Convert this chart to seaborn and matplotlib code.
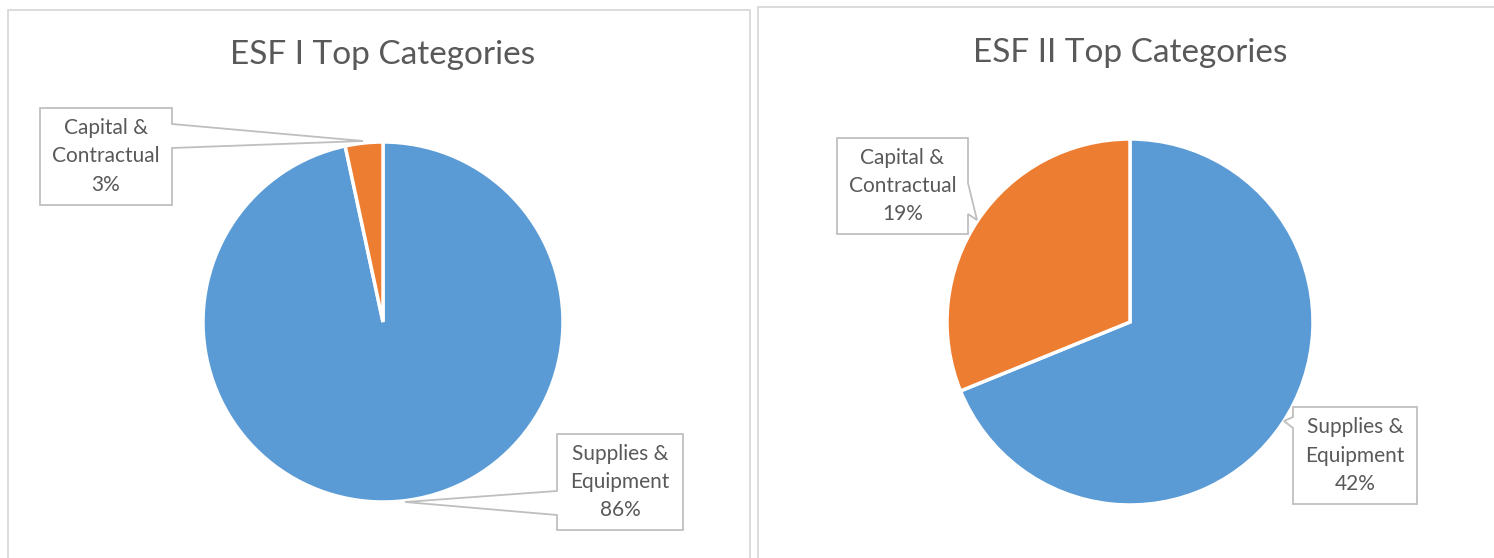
import matplotlib
matplotlib.use("Agg")
import matplotlib.pyplot as plt
from matplotlib.patches import Polygon
import seaborn as sns

# ---- data ----
categories = ["Supplies & Equipment", "Capital & Contractual"]
esf1_values = [86, 3]
esf2_values = [42, 19]
label_names = ["Supplies &\nEquipment", "Capital &\nContractual"]
titles = ["ESF I Top Categories", "ESF II Top Categories"]

sns.set_theme(style="white")
plt.rcParams['font.family'] = ['Lato', 'DejaVu Sans']
colors = ["#5B9BD5", "#ED7D31"]
TXT = "#595959"
EDGE = "#BFBFBF"

W, H = 1494, 558
fig = plt.figure(figsize=(W / 100, H / 100), dpi=100)
ax = fig.add_axes([0, 0, 1, 1])


def Y(y):
    return H - y


def pie(values, cx, cy, r):
    ax.pie(values, colors=colors, startangle=90, counterclock=False,
           center=(cx, Y(cy)), radius=r, frame=True,
           wedgeprops=dict(edgecolor="white", linewidth=2.5))


pie(esf1_values, 383, 322, 180)
pie(esf2_values, 1130, 322, 183)

ax.set_xlim(0, W)
ax.set_ylim(0, H)
ax.set_aspect("equal")
ax.axis("off")

# panel borders
pc = "#D9D9D9"
ax.plot([8, 8, 750, 750], [Y(560), Y(10), Y(10), Y(560)], color=pc, lw=1.3,
        solid_joinstyle="miter", clip_on=False)
ax.plot([758, 758, 1500], [Y(560), Y(7), Y(7)], color=pc, lw=1.3,
        solid_joinstyle="miter", clip_on=False)

# titles
ax.text(383, Y(55), titles[0], ha="center", va="center", fontsize=24,
        color=TXT)
ax.text(1130, Y(53), titles[1], ha="center", va="center", fontsize=24,
        color=TXT)


def label_box(x0, y0, x1, y1, text, outline):
    poly = Polygon([(px, Y(py)) for px, py in outline], closed=True,
                   facecolor="white", edgecolor=EDGE, lw=1.3, zorder=5)
    ax.add_patch(poly)
    ax.text((x0 + x1) / 2, Y((y0 + y1) / 2), text, ha="center", va="center",
            fontsize=15, color=TXT, linespacing=1.52, zorder=6)


def pct(v):
    return f"{v}%"

# ESF I - Capital & Contractual (callout pointing right)
label_box(40, 108, 172, 205, f"{label_names[1]}\n{pct(esf1_values[1])}",
          [(40, 108), (172, 108), (172, 124), (363, 141), (172, 148),
           (172, 205), (40, 205)])
# ESF I - Supplies & Equipment (callout pointing left)
label_box(557, 434, 683, 530, f"{label_names[0]}\n{pct(esf1_values[0])}",
          [(557, 434), (683, 434), (683, 530), (557, 530), (557, 515),
           (405, 502), (557, 491)])
# ESF II - Capital & Contractual
label_box(837, 138, 968, 234, f"{label_names[1]}\n{pct(esf2_values[1])}",
          [(837, 138), (968, 138), (968, 183), (977, 220), (968, 214),
           (968, 234), (837, 234)])
# ESF II - Supplies & Equipment
label_box(1293, 407, 1417, 504, f"{label_names[0]}\n{pct(esf2_values[0])}",
          [(1293, 407), (1417, 407), (1417, 504), (1293, 504), (1293, 428),
           (1284, 421), (1293, 417)])

fig.savefig("out.png", dpi=100, facecolor="white")
